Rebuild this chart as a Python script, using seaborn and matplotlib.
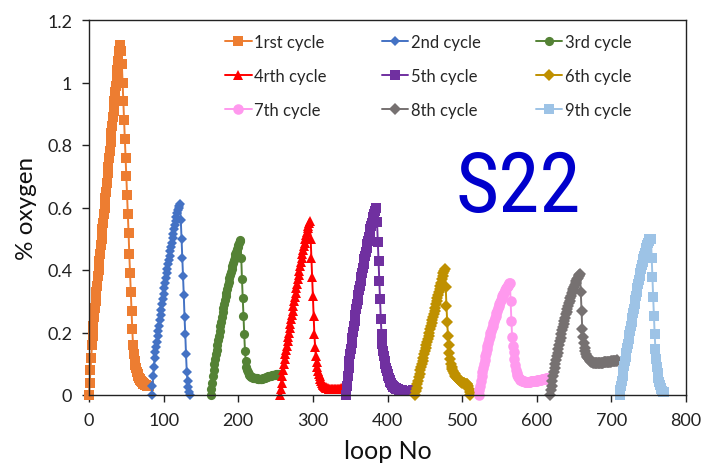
import numpy as np
import pandas as pd
import matplotlib
matplotlib.use("Agg")
import matplotlib.pyplot as plt
from matplotlib import font_manager
import seaborn as sns

# ---------------- data ----------------
cycle_labels = ["1rst cycle", "2nd cycle", "3rd cycle", "4rth cycle", "5th cycle",
                "6th cycle", "7th cycle", "8th cycle", "9th cycle"]
cycle_start = [0, 84, 163, 256, 345, 437, 522, 618, 711]   # first loop No of each cycle

cycle1 = [0.00, 0.04, 0.08, 0.12, 0.16, 0.19, 0.22, 0.25, 0.28,
          0.30, 0.33, 0.35, 0.38, 0.40, 0.43, 0.45, 0.48, 0.50, 0.53, 0.55, 0.58, 0.60,
          0.63, 0.65, 0.68, 0.71, 0.73, 0.76, 0.78, 0.81, 0.84, 0.86, 0.89, 0.91, 0.94,
          0.97, 0.99, 1.02, 1.04, 1.07, 1.10, 1.12,
          1.12, 1.10, 1.06, 1.00, 0.94, 0.88, 0.82, 0.76, 0.70, 0.64, 0.58, 0.52, 0.45,
          0.39, 0.33, 0.27, 0.21, 0.16,
          0.13, 0.11, 0.095, 0.085, 0.075, 0.068, 0.062, 0.056, 0.051, 0.047, 0.044,
          0.041, 0.038, 0.036, 0.034, 0.033, 0.032, 0.031, 0.030, 0.030, 0.030]

cycle2 = [0.00, 0.03, 0.06, 0.09, 0.12,
          0.137, 0.154, 0.171, 0.188, 0.205, 0.222, 0.239, 0.256, 0.273, 0.29, 0.307,
          0.324, 0.341, 0.358, 0.375, 0.39,
          0.404, 0.418, 0.432, 0.446, 0.46, 0.474, 0.488, 0.502, 0.516, 0.53, 0.544,
          0.558, 0.57, 0.582, 0.592, 0.60, 0.605, 0.61,
          0.56, 0.50, 0.44, 0.38, 0.32, 0.25, 0.195, 0.13, 0.075, 0.045, 0.025, 0.01, 0.00]

cycle3 = [0.00, 0.02, 0.04, 0.06, 0.08, 0.10, 0.115, 0.13, 0.145, 0.16,
          0.175, 0.19, 0.205, 0.22, 0.235, 0.25, 0.265, 0.28, 0.292, 0.304,
          0.316, 0.328, 0.34, 0.351, 0.362, 0.373, 0.384, 0.394, 0.404, 0.414,
          0.424, 0.433, 0.442, 0.45, 0.458, 0.466, 0.473, 0.48, 0.487, 0.493,
          0.495,
          0.44, 0.37, 0.31, 0.254, 0.195, 0.142, 0.11, 0.09, 0.08, 0.073, 0.068, 0.064,
          0.061, 0.059, 0.058, 0.057,
          0.056, 0.055, 0.055, 0.054, 0.053, 0.053, 0.052, 0.052, 0.051, 0.051, 0.051,
          0.052, 0.052, 0.053,
          0.054, 0.055, 0.056, 0.057, 0.058, 0.059, 0.06, 0.06, 0.061, 0.062, 0.062,
          0.063, 0.063, 0.064, 0.064, 0.065, 0.065, 0.066, 0.066, 0.066, 0.067]

cycle4 = [0.00, 0.02, 0.04, 0.06, 0.08, 0.10, 0.115, 0.13, 0.144, 0.158,
          0.172, 0.186, 0.20, 0.214, 0.228, 0.242, 0.256, 0.27, 0.285, 0.30,
          0.314, 0.328, 0.342, 0.356, 0.37, 0.384, 0.398, 0.412, 0.426, 0.44,
          0.452, 0.464, 0.476, 0.488, 0.50, 0.511, 0.522, 0.533, 0.542, 0.55,
          0.558,
          0.50, 0.44, 0.377, 0.318, 0.254, 0.195, 0.153, 0.125, 0.105, 0.09, 0.078,
          0.068, 0.06, 0.052, 0.046, 0.04, 0.036, 0.032, 0.029, 0.027, 0.025, 0.023, 0.022,
          0.021, 0.02, 0.02, 0.019, 0.019, 0.019, 0.018, 0.018, 0.018, 0.018, 0.018,
          0.018, 0.019, 0.019, 0.019, 0.02, 0.02, 0.02, 0.021, 0.021, 0.022, 0.022]

cycle5 = [0.00, 0.03, 0.06, 0.085, 0.11, 0.13, 0.148, 0.166, 0.184, 0.202,
          0.22, 0.238, 0.256, 0.274, 0.29, 0.305, 0.32, 0.335, 0.35, 0.364,
          0.378, 0.392, 0.406, 0.42, 0.434, 0.446, 0.458, 0.47, 0.482, 0.494,
          0.506, 0.518, 0.53, 0.54, 0.55, 0.56, 0.57, 0.58, 0.59, 0.60,
          0.60,
          0.553, 0.489, 0.43, 0.366, 0.307, 0.243, 0.195, 0.163, 0.14, 0.125, 0.11,
          0.098, 0.087, 0.077, 0.068, 0.06, 0.053, 0.047, 0.042, 0.037, 0.033, 0.03,
          0.027, 0.025, 0.023, 0.021, 0.02, 0.019, 0.018, 0.017,
          0.016, 0.016, 0.015, 0.015, 0.015, 0.014, 0.014, 0.014, 0.014, 0.013, 0.013,
          0.013, 0.013, 0.013, 0.013, 0.013, 0.014, 0.014, 0.015]

cycle6 = [0.00, 0.012, 0.024, 0.035, 0.046, 0.057, 0.068, 0.079, 0.09, 0.10, 0.11,
          0.12, 0.13, 0.14, 0.15, 0.16, 0.17, 0.18, 0.19, 0.20, 0.21,
          0.22, 0.23, 0.24, 0.25, 0.26, 0.27, 0.28, 0.29, 0.30, 0.31,
          0.32, 0.33, 0.34, 0.35, 0.36, 0.37, 0.38, 0.39, 0.397, 0.403,
          0.345, 0.286, 0.233, 0.19, 0.16, 0.135, 0.115, 0.10, 0.09, 0.082,
          0.076, 0.07, 0.066, 0.062, 0.059, 0.056, 0.053, 0.05, 0.048, 0.046,
          0.044, 0.042, 0.04, 0.039, 0.038, 0.037, 0.036, 0.036, 0.035, 0.035,
          0.03, 0.02, 0.01, 0.00]

cycle7 = [0.00, 0.015, 0.03, 0.045, 0.06, 0.074, 0.088, 0.10, 0.112, 0.124,
          0.135, 0.146, 0.157, 0.168, 0.178, 0.188, 0.197, 0.206, 0.214, 0.222,
          0.23, 0.238, 0.246, 0.254, 0.262, 0.27, 0.277, 0.284, 0.291, 0.298,
          0.305, 0.311, 0.317, 0.322, 0.327, 0.332, 0.337, 0.341, 0.345, 0.349,
          0.353, 0.357, 0.36,
          0.30, 0.238, 0.185, 0.158, 0.137, 0.115, 0.095, 0.08, 0.07, 0.063, 0.058,
          0.054, 0.051, 0.049, 0.047, 0.046, 0.045,
          0.044, 0.044, 0.043, 0.043, 0.043, 0.043, 0.043, 0.043, 0.043, 0.043,
          0.044, 0.044, 0.044, 0.045, 0.045, 0.045, 0.046, 0.046, 0.046, 0.047,
          0.047, 0.048, 0.048, 0.049, 0.049, 0.05, 0.05, 0.051, 0.051, 0.052,
          0.052, 0.053, 0.054, 0.055]

cycle8 = [0.00, 0.015, 0.03, 0.045, 0.06, 0.074, 0.088, 0.10, 0.112, 0.124,
          0.136, 0.148, 0.16, 0.172, 0.184, 0.196, 0.207, 0.218, 0.228, 0.238,
          0.248, 0.258, 0.267, 0.276, 0.285, 0.294, 0.302, 0.31, 0.318, 0.326,
          0.333, 0.34, 0.347, 0.353, 0.359, 0.365, 0.37, 0.375, 0.38, 0.384,
          0.387,
          0.329, 0.27, 0.211, 0.185, 0.165, 0.15, 0.14, 0.132, 0.126, 0.121, 0.117,
          0.114, 0.111, 0.109, 0.107, 0.106, 0.105,
          0.104, 0.104, 0.103, 0.103, 0.103, 0.103, 0.103, 0.103, 0.103, 0.103,
          0.104, 0.104, 0.104, 0.104, 0.105, 0.105, 0.105, 0.105, 0.106, 0.106,
          0.106, 0.107, 0.107, 0.107, 0.108, 0.108, 0.108, 0.109, 0.109, 0.11,
          0.11, 0.11, 0.111]

cycle9 = [0.00, 0.015, 0.03, 0.046, 0.062, 0.078, 0.094, 0.108, 0.122, 0.136,
          0.15, 0.164, 0.178, 0.192, 0.206, 0.22, 0.234, 0.248, 0.262, 0.276,
          0.29, 0.303, 0.316, 0.329, 0.342, 0.355, 0.368, 0.38, 0.392, 0.404,
          0.415, 0.426, 0.436, 0.446, 0.455, 0.464, 0.472, 0.48, 0.487, 0.494,
          0.50, 0.50,
          0.50, 0.44, 0.377, 0.313, 0.254, 0.195, 0.147, 0.115, 0.09, 0.07, 0.055,
          0.042, 0.032, 0.024, 0.018, 0.014, 0.011, 0.009]

cycles = [cycle1, cycle2, cycle3, cycle4, cycle5, cycle6, cycle7, cycle8, cycle9]

x_ticks = [0, 100, 200, 300, 400, 500, 600, 700, 800]
y_ticks = [0, 0.2, 0.4, 0.6, 0.8, 1.0, 1.2]
y_tick_labels = ["0", "0.2", "0.4", "0.6", "0.8", "1", "1.2"]

# ---------------- styles ----------------
colors = ["#ED7D31", "#4472C4", "#548235", "#FF0000", "#7030A0",
          "#BF9000", "#FF99EE", "#767171", "#9DC3E6"]
markers = ["s", "D", "o", "^", "s", "D", "o", "D", "s"]
msizes = [7, 5.2, 6.6, 7, 7.2, 5.8, 7.6, 5.8, 7.2]

sns.set_style("ticks")
plt.rcParams["font.family"] = ["Lato", "DejaVu Sans"]

# pick a narrow sans font for the big "S22" label, if one is installed
big_font = None
for f in font_manager.fontManager.ttflist:
    if f.name in ("Liberation Sans Narrow", "Arial Narrow", "Roboto Condensed",
                  "Open Sans Condensed") and f.weight in (400, "normal", "regular") \
            and f.style == "normal":
        big_font = font_manager.FontProperties(fname=f.fname, size=60)
        break
if big_font is None:
    for f in font_manager.fontManager.ttflist:
        if f.name == "DejaVu Sans" and "ondensed" in f.fname and f.style == "normal" \
                and "Bold" not in f.fname:
            big_font = font_manager.FontProperties(fname=f.fname, size=58)
            break
if big_font is None:
    big_font = font_manager.FontProperties(family=["Liberation Sans", "DejaVu Sans"], size=50)

fig = plt.figure(figsize=(7.01, 4.64), dpi=100)
ax = fig.add_axes([89 / 701, 1 - 396 / 464, (686 - 89) / 701, (396 - 21) / 464])

for lab, start, vals, c, m, ms in zip(cycle_labels, cycle_start, cycles, colors, markers, msizes):
    df = pd.DataFrame({"loop": np.arange(start, start + len(vals)), "oxygen": vals})
    sns.lineplot(data=df, x="loop", y="oxygen", ax=ax, color=c, marker=m,
                 markersize=ms, markeredgewidth=0, linewidth=1.4, label=lab,
                 errorbar=None, clip_on=False, legend=False)

ax.set_xlim(0, 800)
ax.set_ylim(0, 1.2)
ax.set_xticks(x_ticks)
ax.set_yticks(y_ticks)
ax.set_yticklabels(y_tick_labels)
ax.tick_params(axis="both", direction="out", length=5, width=1, color="#222222",
               labelsize=13, labelcolor="#222222")
ax.tick_params(axis="y", pad=7)
ax.tick_params(axis="x", pad=7)
for s in ax.spines.values():
    s.set_visible(True)
    s.set_color("#222222")
    s.set_linewidth(1.0)

ax.set_xlabel("loop No", fontsize=18, color="#111111", labelpad=8)
ax.set_ylabel("% oxygen", fontsize=17.5, color="#111111", labelpad=7)

handles, labels = ax.get_legend_handles_labels()
order = [0, 3, 6, 1, 4, 7, 2, 5, 8]
ax.legend([handles[i] for i in order], [labels[i] for i in order], ncol=3,
          loc="upper left", bbox_to_anchor=(225 / 701, 1 - 35 / 464),
          bbox_transform=fig.transFigure, frameon=False, fontsize=12,
          handlelength=1.6, handletextpad=0.15, columnspacing=3.3,
          labelspacing=1.07, borderpad=0, borderaxespad=0, numpoints=1)

fig.text(455 / 701, 1 - 212 / 464, "S22", fontproperties=big_font, color="#0000CC",
         ha="left", va="baseline")

fig.savefig("out.png", dpi=100)
